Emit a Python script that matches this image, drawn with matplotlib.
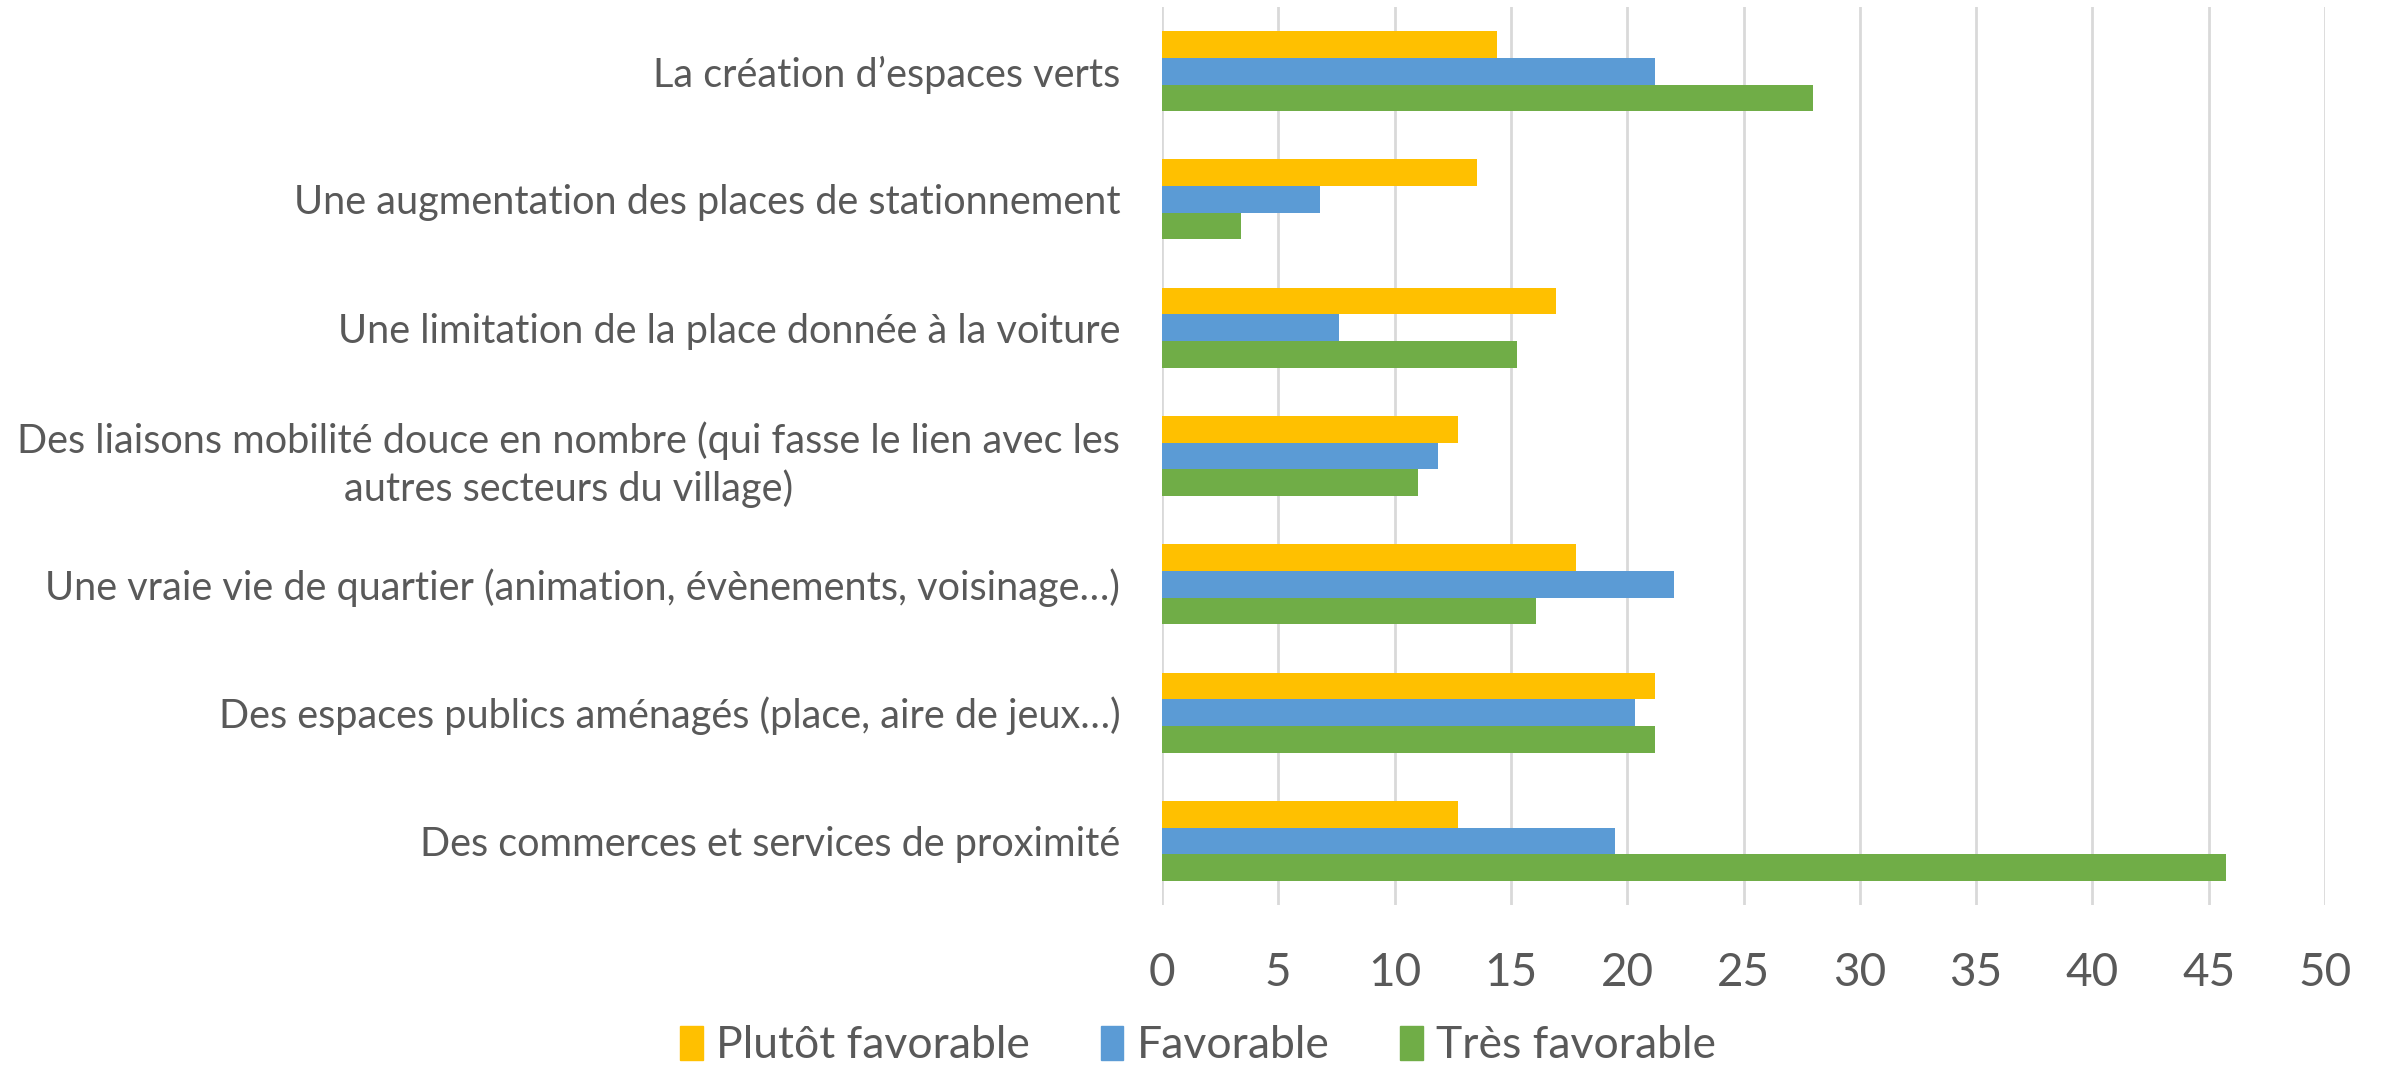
import numpy as np
import matplotlib
matplotlib.use('Agg')
import matplotlib.pyplot as plt
from matplotlib.patches import Patch

# Categories (bottom to top, as drawn)
categories = [
    'Des commerces et services de proximité',
    'Des espaces publics aménagés (place, aire de jeux…)',
    'Une vraie vie de quartier (animation, évènements, voisinage…)',
    'Des liaisons mobilité douce en nombre (qui fasse le lien avec les\nautres secteurs du village)',
    'Une limitation de la place donnée à la voiture',
    'Une augmentation des places de stationnement',
    'La création d’espaces verts',
]

# Values in % (same order as categories)
plutot_favorable = [12.71, 21.19, 17.80, 12.71, 16.95, 13.56, 14.41]
favorable = [19.49, 20.34, 22.03, 11.86, 7.63, 6.78, 21.19]
tres_favorable = [45.76, 21.19, 16.10, 11.02, 15.25, 3.39, 27.97]

series_names = ['Plutôt favorable', 'Favorable', 'Très favorable']
colors = ['#FFC000', '#5B9BD5', '#70AD47']

plt.rcParams['font.family'] = ['Lato', 'DejaVu Sans']
text_color = '#595959'

fig = plt.figure(figsize=(23.82, 10.66), dpi=100)
ax = fig.add_axes([0.4878, 0.151, 0.4883, 0.8424])

y = np.arange(len(categories))
h = 0.208
ax.barh(y + h, plutot_favorable, height=h, color=colors[0], label=series_names[0])
ax.barh(y, favorable, height=h, color=colors[1], label=series_names[1])
ax.barh(y - h, tres_favorable, height=h, color=colors[2], label=series_names[2])

ax.set_xlim(0, 50)
ax.set_ylim(-0.5, len(categories) - 0.5)
ax.set_xticks(range(0, 51, 5))
ax.set_yticks(y)
ax.set_yticklabels(categories, multialignment='center', linespacing=1.3)
ax.tick_params(axis='y', length=0, pad=30, labelsize=28.5, labelcolor=text_color)
ax.tick_params(axis='x', length=0, pad=34, labelsize=33, labelcolor=text_color)

ax.grid(axis='x', color='#D9D9D9', linewidth=2)
ax.set_axisbelow(True)
for s in ax.spines.values():
    s.set_visible(False)

handles = [Patch(color=c) for c in colors]
fig.legend(handles, series_names, loc='center', bbox_to_anchor=(0.503, 0.019),
           ncol=3, frameon=False, fontsize=32, labelcolor=text_color,
           handlelength=0.5, handleheight=0.8, handletextpad=0.3, columnspacing=1.6)

fig.savefig('out.png', dpi=100)
